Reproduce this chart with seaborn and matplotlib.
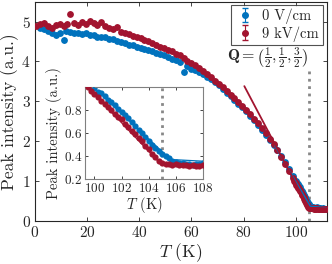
import numpy as np
import pandas as pd
import matplotlib
matplotlib.use("Agg")
import matplotlib.pyplot as plt
import seaborn as sns

# main curve (T < 100 K)
T_red = [0.5, 2, 3.5, 5, 6.5, 8, 9.5, 11, 12.5, 13.5, 15, 16.5, 18, 19.5, 21, 22.5, 24, 25.5, 27,
         28.5, 30, 31.5, 33, 34.5, 36, 37.5, 39, 40.5, 42, 43.5, 45, 46.5, 48, 49.5, 51, 52.5, 54,
         55.5, 57, 58.5, 60, 61.5, 63, 64.5, 66, 67.5, 69, 70.5, 72, 73.5, 75, 76.5, 78, 79.5, 81,
         82.5, 84, 85.5, 87, 88.5, 90, 91.5, 93, 94.5, 96, 97.5, 99]
I_red = [4.90, 4.93, 4.97, 4.88, 4.85, 4.92, 4.95, 4.90, 4.95, 5.20, 4.97, 4.92, 5.00, 4.95, 5.02,
         4.97, 4.92, 4.98, 4.88, 4.85, 4.82, 4.86, 4.75, 4.72, 4.68, 4.64, 4.60, 4.58, 4.53, 4.50,
         4.45, 4.42, 4.37, 4.33, 4.28, 4.25, 4.18, 4.15, 4.08, 4.02, 3.96, 3.90, 3.83, 3.76, 3.68,
         3.60, 3.52, 3.43, 3.35, 3.26, 3.17, 3.08, 2.98, 2.89, 2.79, 2.68, 2.56, 2.45, 2.32, 2.20,
         2.06, 1.92, 1.77, 1.61, 1.43, 1.26, 1.07]

T_blue = [2, 3.5, 5, 6.5, 8, 9.5, 11, 12, 13.5, 15, 16.5, 18, 19.5, 21, 22.5, 24, 25.5, 27, 28.5,
          30, 31.5, 33, 34.5, 36, 37.5, 39, 40.5, 42, 43.5, 45, 46.5, 48, 49.5, 51, 52.5, 54, 55.5,
          57, 58.5, 60, 61.5, 63, 64.5, 66, 67.5, 69, 70.5, 72, 73.5, 75, 76.5, 78, 79.5, 81, 82.5,
          84, 85.5, 87, 88.5, 90, 91.5, 93, 94.5, 96, 97.5, 99]
I_blue = [4.85, 4.82, 4.77, 4.72, 4.66, 4.70, 4.53, 4.76, 4.73, 4.70, 4.72, 4.68, 4.70, 4.66, 4.65,
          4.62, 4.60, 4.60, 4.57, 4.55, 4.52, 4.48, 4.45, 4.42, 4.40, 4.36, 4.33, 4.30, 4.28, 4.25,
          4.22, 4.19, 4.15, 4.10, 4.06, 4.03, 3.98, 3.74, 3.88, 3.82, 3.78, 3.74, 3.69, 3.62, 3.55,
          3.48, 3.40, 3.31, 3.22, 3.13, 3.04, 2.94, 2.85, 2.75, 2.64, 2.52, 2.41, 2.28, 2.16, 2.04,
          1.91, 1.77, 1.63, 1.47, 1.31, 1.13]

# transition region (inset)
Tin_red = [99.5, 99.75, 100.0, 100.25, 100.5, 100.75, 101.0, 101.25, 101.5, 101.75, 102.0, 102.25,
           102.5, 102.75, 103.0, 103.25, 103.5, 103.75, 104.0, 104.25, 104.5, 104.75, 105.0, 105.25,
           105.5, 105.75, 106.0, 106.25, 106.5, 106.75, 107.0, 107.25, 107.5, 107.75, 108.0]
Iin_red = [1.00, 0.97, 0.94, 0.91, 0.88, 0.85, 0.83, 0.80, 0.77, 0.74, 0.72, 0.68, 0.65, 0.62, 0.59,
           0.56, 0.53, 0.49, 0.46, 0.42, 0.39, 0.36, 0.34, 0.33, 0.33, 0.32, 0.33, 0.32, 0.32, 0.32,
           0.31, 0.32, 0.31, 0.31, 0.32]
Tin_blue = [99.75, 100.0, 100.25, 100.5, 100.75, 101.0, 101.25, 101.5, 101.75, 102.0, 102.25, 102.5,
            102.75, 103.0, 103.25, 103.5, 103.75, 104.0, 104.25, 104.5, 104.75, 105.0, 105.25, 105.5,
            105.75, 106.0, 106.25, 106.5, 106.75, 107.0, 107.25, 107.5, 107.75, 108.0]
Iin_blue = [1.01, 0.99, 0.96, 0.95, 0.92, 0.89, 0.87, 0.84, 0.81, 0.78, 0.76, 0.73, 0.70, 0.66, 0.63,
            0.60, 0.57, 0.53, 0.50, 0.47, 0.44, 0.42, 0.40, 0.38, 0.36, 0.35, 0.34, 0.34, 0.33, 0.33,
            0.32, 0.33, 0.33, 0.34]

# above 108 K (main only)
T_tail = [108.5, 109, 109.5, 110, 110.5, 111, 111.5]
I_tail_red = [0.31, 0.30, 0.31, 0.30, 0.30, 0.31, 0.30]
I_tail_blue = [0.33, 0.32, 0.32, 0.31, 0.32, 0.31, 0.31]

# linear fits near Tc
fit_red_T = [80.3, 104.9, 112]
fit_red_I = [3.38, 0.33, 0.32]
fit_blue_T = [92.0, 105.6, 112]
fit_blue_I = [1.88, 0.37, 0.33]

Tc = 105
err_main = 0.07
err_inset = 0.015

c_blue = "#0072BD"
c_red = "#A2142F"

sns.set_style("ticks")
plt.rcParams["font.family"] = ["serif"]
plt.rcParams["font.serif"] = ["cmr10", "DejaVu Serif"]
plt.rcParams["mathtext.fontset"] = "cm"
plt.rcParams["axes.formatter.use_mathtext"] = True
plt.rcParams["axes.unicode_minus"] = False

main_blue = pd.DataFrame({"T": T_blue + Tin_blue + T_tail, "I": I_blue + Iin_blue + I_tail_blue})
main_red = pd.DataFrame({"T": T_red + Tin_red + T_tail, "I": I_red + Iin_red + I_tail_red})

fig = plt.figure(figsize=(3.32, 2.64), dpi=100)
ax = fig.add_axes([0.105, 0.163, 0.88, 0.831])

ax.errorbar(main_blue["T"], main_blue["I"], yerr=err_main, fmt="none", ecolor=c_blue, elinewidth=1.0, zorder=2)
sns.scatterplot(data=main_blue, x="T", y="I", ax=ax, color=c_blue, s=24, linewidth=0, zorder=2)
ax.errorbar(main_red["T"], main_red["I"], yerr=err_main, fmt="none", ecolor=c_red, elinewidth=1.0, zorder=3)
sns.scatterplot(data=main_red, x="T", y="I", ax=ax, color=c_red, s=24, linewidth=0, zorder=3)
sns.lineplot(x=fit_blue_T, y=fit_blue_I, ax=ax, color=c_blue, lw=1.0, zorder=4)
sns.lineplot(x=fit_red_T, y=fit_red_I, ax=ax, color=c_red, lw=1.3, zorder=4)
ax.plot([Tc, Tc], [0, 3.83], color="#888888", ls=":", lw=2, zorder=1)

# legend proxies
hb = ax.errorbar([np.nan], [np.nan], yerr=[0.1], fmt="o", color=c_blue, ms=4, capsize=2, elinewidth=0.8, label="0 V/cm")
hr = ax.errorbar([np.nan], [np.nan], yerr=[0.1], fmt="o", color=c_red, ms=4, capsize=2, elinewidth=0.8, label="9 kV/cm")
leg = ax.legend(handles=[hb, hr], loc="upper right", bbox_to_anchor=(0.985, 0.985), fontsize=10.5,
                frameon=True, fancybox=False, edgecolor="#262626", borderpad=0.25, handletextpad=0.5,
                labelspacing=0.15, handlelength=1.4, borderaxespad=0)
leg.get_frame().set_linewidth(0.8)

ax.text(73.5, 4.1, r"$\mathbf{Q}=\left(\frac{1}{2},\frac{1}{2},\frac{3}{2}\right)$", fontsize=11.5,
        va="center", ha="left")

ax.set_xlim(0, 112)
ax.set_ylim(0, 5.5)
ax.set_xticks([0, 20, 40, 60, 80, 100])
ax.set_yticks([0, 1, 2, 3, 4, 5])
ax.set_xlabel(r"$T$ (K)", fontsize=12.5, labelpad=1)
ax.set_ylabel("Peak intensity (a.u.)", fontsize=12.5, labelpad=2)
ax.tick_params(direction="in", top=True, right=True, labelsize=11, length=3, width=0.6, colors="#262626", pad=3)
for sp in ax.spines.values():
    sp.set_color("#262626")
    sp.set_linewidth(0.8)

# inset
axin = fig.add_axes([0.256, 0.322, 0.355, 0.348])
axin.set_facecolor("white")
axin.set_zorder(5)
in_blue = pd.DataFrame({"T": Tin_blue, "I": Iin_blue})
in_red = pd.DataFrame({"T": Tin_red, "I": Iin_red})
axin.plot([Tc, Tc], [0.2, 1.0], color="#888888", ls=":", lw=2, zorder=1)
axin.errorbar(in_blue["T"], in_blue["I"], yerr=err_inset, fmt="none", ecolor=c_blue, elinewidth=0.9, zorder=2)
sns.scatterplot(data=in_blue, x="T", y="I", ax=axin, color=c_blue, s=20, linewidth=0, zorder=2)
axin.errorbar(in_red["T"], in_red["I"], yerr=err_inset, fmt="none", ecolor=c_red, elinewidth=0.9, zorder=3)
sns.scatterplot(data=in_red, x="T", y="I", ax=axin, color=c_red, s=20, linewidth=0, zorder=3)
sns.lineplot(x=fit_blue_T, y=fit_blue_I, ax=axin, color=c_blue, lw=0.9, zorder=4)
sns.lineplot(x=fit_red_T, y=fit_red_I, ax=axin, color=c_red, lw=0.9, zorder=4)
axin.set_xlim(99.3, 108)
axin.set_ylim(0.2, 1.0)
axin.set_xticks([100, 102, 104, 106, 108])
axin.set_yticks([0.2, 0.4, 0.6, 0.8])
axin.set_xlabel(r"$T$ (K)", fontsize=10.5, labelpad=0)
axin.set_ylabel("Peak intensity (a.u.)", fontsize=10.5, labelpad=1)
axin.tick_params(direction="in", top=True, right=True, labelsize=9.5, length=2.5, width=0.6, colors="#262626", pad=2)
for sp in axin.spines.values():
    sp.set_color("#808080")
    sp.set_linewidth(0.8)

fig.savefig("out.png", dpi=100)
